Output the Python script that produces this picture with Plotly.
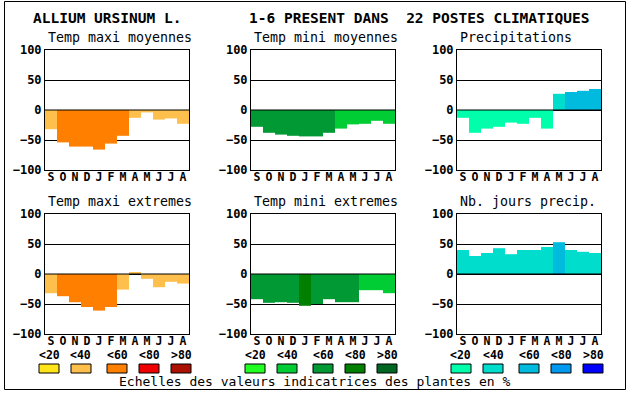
import plotly.graph_objects as go

W, H = 630, 394

months = ["S", "O", "N", "D", "J", "F", "M", "A", "M", "J", "J", "A"]
y_ticks = [-100, -50, 0, 50, 100]
scale_labels = ["<20", "<40", "<60", "<80", ">80"]

# values (indicator %) and colour class (0..4) per month
tmax_moy = [-32, -54, -61, -61, -66, -56, -43, -13, -4, -16, -14, -23]
tmax_moy_cls = [1, 2, 2, 2, 2, 2, 2, 1, 1, 1, 1, 1]
tmin_moy = [-28, -38, -41, -43, -44, -44, -38, -31, -24, -23, -18, -23]
tmin_moy_cls = [2, 2, 2, 2, 2, 2, 2, 1, 1, 1, 1, 1]
precip = [-13, -38, -31, -28, -21, -23, -13, -31, 27, 30, 32, 35]
precip_cls = [0, 0, 0, 0, 0, 0, 0, 0, 1, 2, 2, 2]
tmax_ext = [-32, -37, -47, -55, -61, -55, -26, 2, -8, -22, -13, -16]
tmax_ext_cls = [1, 2, 2, 2, 2, 2, 1, 1, 1, 1, 1, 1]
tmin_ext = [-42, -48, -47, -48, -53, -50, -42, -47, -47, -27, -27, -32]
tmin_ext_cls = [2, 2, 2, 2, 3, 2, 2, 2, 2, 1, 1, 1]
njours = [40, 30, 35, 43, 33, 40, 40, 45, 53, 40, 37, 35]
njours_cls = [1, 1, 1, 1, 1, 1, 1, 1, 2, 1, 1, 1]

orange_scale = ["#FFE51A", "#FFBF4D", "#FF8000", "#EE0000", "#AA1100"]
green_scale = ["#22FF22", "#00CC33", "#009933", "#007F00", "#006622"]
blue_scale = ["#00FFAA", "#00DDCC", "#00BBDD", "#0099EE", "#0000FF"]

FONT = "DejaVu Sans Mono"

def px(x):
    return x / W

def py(y):
    return 1 - y / H

panels = [
    ("Temp maxi moyennes", tmax_moy, tmax_moy_cls, orange_scale, 45, 50),
    ("Temp mini moyennes", tmin_moy, tmin_moy_cls, green_scale, 251, 50),
    ("Precipitations", precip, precip_cls, blue_scale, 457, 50),
    ("Temp maxi extremes", tmax_ext, tmax_ext_cls, orange_scale, 45, 214),
    ("Temp mini extremes", tmin_ext, tmin_ext_cls, green_scale, 251, 214),
    ("Nb. jours precip.", njours, njours_cls, blue_scale, 457, 214),
]
PW, PH = 144, 120

fig = go.Figure()
layout = {}
annotations = []
shapes = []

for i, (title, vals, cls, scale, x0, y0) in enumerate(panels):
    k = "" if i == 0 else str(i + 1)
    fig.add_trace(go.Bar(
        x=list(range(12)), y=vals, width=1,
        marker=dict(color=[scale[c] for c in cls], line=dict(width=0)),
        xaxis="x" + k, yaxis="y" + k, showlegend=False, hoverinfo="skip",
    ))
    layout["xaxis" + k] = dict(
        domain=[px(x0), px(x0 + PW)], anchor="y" + k, range=[-0.5, 11.5],
        tickvals=list(range(12)), ticktext=months, ticks="", ticklabelstandoff=-4,
        tickfont=dict(family=FONT, size=11.5, color="black", weight="bold"),
        showline=True, mirror=True, linecolor="black", linewidth=1,
        showgrid=False, zeroline=False, fixedrange=True, automargin=False,
    )
    layout["yaxis" + k] = dict(
        domain=[py(y0 + PH), py(y0)], anchor="x" + k, range=[-100, 100],
        tickvals=y_ticks, ticks="",
        tickfont=dict(family=FONT, size=12, color="black", weight="bold"),
        showline=True, mirror=True, linecolor="black", linewidth=1,
        showgrid=True, gridcolor="black", gridwidth=1,
        zeroline=False, fixedrange=True, automargin=False,
    )
    shapes.append(dict(type="line", xref="x" + k + " domain", yref="y" + k,
                       x0=0, x1=1, y0=0, y1=0, layer="above",
                       line=dict(color="black", width=1)))
    annotations.append(dict(text=title, xref="paper", yref="paper",
                            x=px(x0 + 0.5), y=py(y0 - 13), xanchor="left", yanchor="middle",
                            showarrow=False, font=dict(family=FONT, size=13.3, color="black")))

# legend scales under each column
for x0, scale in [(45, orange_scale), (251, green_scale), (457, blue_scale)]:
    for j, (lab, col) in enumerate(zip(scale_labels, scale)):
        bx = x0 - 6 + [0, 32, 68, 100, 132][j]
        shapes.append(dict(type="rect", xref="paper", yref="paper",
                           x0=px(bx), x1=px(bx + 20), y0=py(373), y1=py(364),
                           fillcolor=col, line=dict(color="black", width=1)))
        annotations.append(dict(text="<b>" + lab + "</b>", xref="paper", yref="paper",
                                x=px(bx + 10), y=py(355), xanchor="center", yanchor="middle",
                                showarrow=False, font=dict(family=FONT, size=11.5, color="black")))

annotations.append(dict(text="Echelles des valeurs indicatrices des plantes en %",
                        xref="paper", yref="paper", x=px(314.5), y=py(381.5),
                        xanchor="center", yanchor="middle", showarrow=False,
                        font=dict(family=FONT, size=13, color="black")))
annotations.append(dict(text="<b>ALLIUM URSINUM L.</b>", xref="paper", yref="paper",
                        x=px(31), y=py(18), xanchor="left", yanchor="middle", showarrow=False,
                        font=dict(family=FONT, size=14.5, color="black")))
annotations.append(dict(text="<b>1-6 PRESENT DANS  22 POSTES CLIMATIQUES</b>", xref="paper", yref="paper",
                        x=px(247), y=py(18), xanchor="left", yanchor="middle", showarrow=False,
                        font=dict(family=FONT, size=14.5, color="black")))

# outer frame
shapes.append(dict(type="rect", xref="paper", yref="paper",
                   x0=px(4.5), x1=px(625.5), y0=py(389.5), y1=py(1.5),
                   line=dict(color="black", width=1), fillcolor="rgba(0,0,0,0)"))

fig.update_layout(
    width=W, height=H, margin=dict(l=0, r=0, t=0, b=0, pad=0, autoexpand=False),
    paper_bgcolor="white", plot_bgcolor="white",
    annotations=annotations, shapes=shapes, showlegend=False,
    **layout,
)

fig.write_html("out.html", config={"displayModeBar": False},
               post_script="document.body.style.margin='0';document.body.style.padding='0';")
